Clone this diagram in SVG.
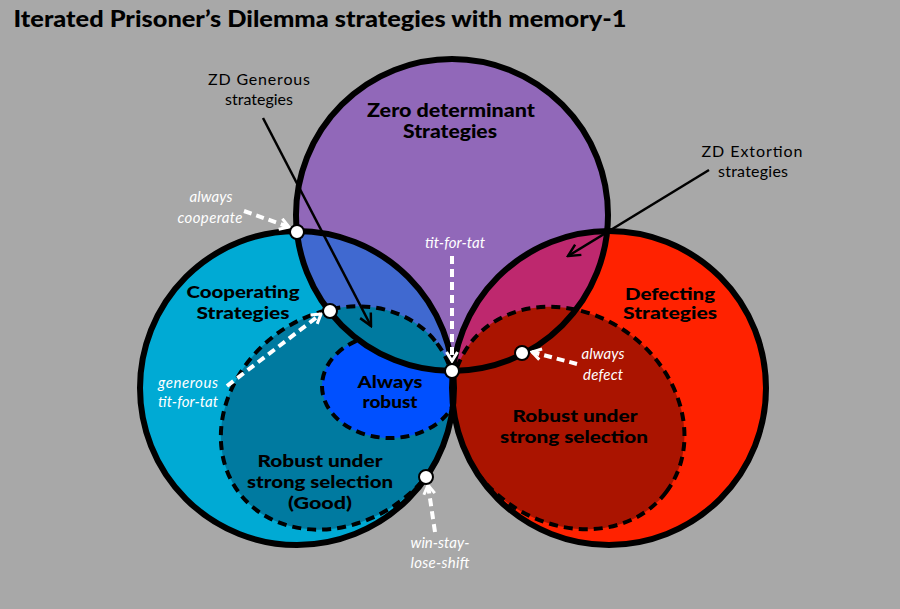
<svg xmlns="http://www.w3.org/2000/svg" width="900" height="609" viewBox="0 0 900 609">
<style>
.outline{fill:none;stroke:#000;stroke-width:6}
.dash{fill:none;stroke:#000;stroke-width:4;stroke-dasharray:9 6}
.bold{font-family:Lato,"Liberation Sans",sans-serif;font-weight:900;font-size:17px;fill:#000;text-anchor:middle}
.note{font-family:Lato,"Liberation Sans",sans-serif;font-size:16px;fill:#000;text-anchor:middle}
.ital{font-family:Lato,"Liberation Sans",sans-serif;font-style:italic;font-size:15px;fill:#fff;text-anchor:middle}
.warrow{fill:none;stroke:#fff;stroke-width:4;stroke-dasharray:8 5}
.barrow{fill:none;stroke:#000;stroke-width:2.5}
</style>
<defs>
<clipPath id="cCyan"><circle cx="297" cy="388" r="157"/></clipPath>
<clipPath id="cRed"><circle cx="609" cy="388" r="157"/></clipPath>
<mask id="mRobust" maskUnits="userSpaceOnUse" x="0" y="0" width="900" height="609">
<circle cx="297" cy="388" r="157" fill="#fff"/>
<circle cx="452" cy="215" r="156" fill="#000"/>
</mask>
<marker id="wHead" markerUnits="userSpaceOnUse" viewBox="0 0 14 14" markerWidth="14" markerHeight="14" refX="12" refY="7" orient="auto">
<path d="M3,1.5 L12,7 L3,12.5" fill="none" stroke="#fff" stroke-width="3"/>
</marker>
<marker id="bHead" markerUnits="userSpaceOnUse" viewBox="0 0 16 16" markerWidth="16" markerHeight="16" refX="14" refY="8" orient="auto">
<path d="M2,2 L14,8 L2,14" fill="none" stroke="#000" stroke-width="2.5"/>
</marker>
</defs>
<rect x="0" y="0" width="900" height="609" fill="#a8a8a8"/>
<text x="320" y="27" style="font-family:Lato,'Liberation Sans',sans-serif;font-weight:900;font-size:23px;text-anchor:middle" textLength="613" lengthAdjust="spacingAndGlyphs">Iterated Prisoner’s Dilemma strategies with memory-1</text>

<g id="cooperating">
<circle cx="297" cy="388" r="157" fill="#00aad4"/>
</g>
<g id="defecting">
<circle cx="609" cy="388" r="157" fill="#ff2200"/>
</g>
<g id="zero-determinant">
<circle cx="452" cy="215" r="156" fill="#9168b9"/>
</g>
<g id="zd-generous-region">
<circle cx="452" cy="215" r="156" fill="#4069d0" clip-path="url(#cCyan)"/>
</g>
<g id="zd-extortion-region">
<circle cx="452" cy="215" r="156" fill="#be286e" clip-path="url(#cRed)"/>
</g>
<g id="robust-good">
<g clip-path="url(#cCyan)">
<ellipse cx="338" cy="418" rx="124" ry="104" transform="rotate(-37 338 418)" fill="#007aa0"/>
<ellipse cx="338" cy="418" rx="124" ry="104" transform="rotate(-37 338 418)" class="dash"/>
</g>
</g>
<g id="robust-defect">
<g clip-path="url(#cRed)">
<ellipse cx="568" cy="418" rx="123" ry="104" transform="rotate(37 568 418)" fill="#aa1400"/>
<ellipse cx="568" cy="418" rx="123" ry="104" transform="rotate(37 568 418)" class="dash"/>
</g>
</g>
<g id="always-robust">
<g mask="url(#mRobust)">
<ellipse cx="390" cy="386" rx="68" ry="52" fill="#0050ff"/>
<ellipse cx="390" cy="386" rx="68" ry="52" class="dash"/>
</g>
</g>
<g id="outlines">
<circle cx="297" cy="388" r="157" class="outline"/>
<circle cx="609" cy="388" r="157" class="outline"/>
<circle cx="452" cy="215" r="156" class="outline"/>
</g>

<g id="connectors">
<line x1="263" y1="118" x2="371" y2="326" class="barrow" marker-end="url(#bHead)"/>
<line x1="709" y1="170" x2="568" y2="256" class="barrow" marker-end="url(#bHead)"/>
<line x1="244" y1="211" x2="289" y2="227" class="warrow" marker-end="url(#wHead)"/>
<line x1="227" y1="386" x2="321" y2="314" class="warrow" marker-end="url(#wHead)"/>
<line x1="452" y1="256" x2="452" y2="361" class="warrow" marker-end="url(#wHead)"/>
<line x1="577" y1="364" x2="532" y2="352" class="warrow" marker-end="url(#wHead)"/>
<line x1="435" y1="532" x2="428" y2="485" class="warrow" marker-end="url(#wHead)"/>
</g>

<g id="points" fill="#fff" stroke="#000" stroke-width="2">
<circle cx="297" cy="232" r="7"/>
<circle cx="330" cy="311" r="7"/>
<circle cx="452" cy="371" r="7"/>
<circle cx="522" cy="353" r="7"/>
<circle cx="426" cy="477" r="7"/>
</g>

<g id="labels">
<text class="note" x="259" y="85" textLength="102">ZD Generous</text>
<text class="note" x="259" y="105" textLength="68">strategies</text>
<text class="bold" x="451" y="117" textLength="168" lengthAdjust="spacingAndGlyphs" style="font-size:18px">Zero determinant</text>
<text class="bold" x="450" y="138" textLength="94" lengthAdjust="spacingAndGlyphs" style="font-size:18px">Strategies</text>
<text class="note" x="752" y="157" textLength="101">ZD Extortion</text>
<text class="note" x="753" y="177" textLength="70">strategies</text>
<text class="ital" x="211" y="202" textLength="43">always</text>
<text class="ital" x="210" y="223" textLength="65">cooperate</text>
<text class="ital" x="455" y="248" textLength="60">tit-for-tat</text>
<text class="bold" x="243" y="298" textLength="113" lengthAdjust="spacingAndGlyphs">Cooperating</text>
<text class="bold" x="243" y="319" textLength="93" lengthAdjust="spacingAndGlyphs">Strategies</text>
<text class="bold" x="670" y="300" textLength="90" lengthAdjust="spacingAndGlyphs">Defecting</text>
<text class="bold" x="670" y="319" textLength="94" lengthAdjust="spacingAndGlyphs">Strategies</text>
<text class="ital" x="188" y="388" textLength="60">generous</text>
<text class="ital" x="188" y="407" textLength="60">tit-for-tat</text>
<text class="ital" x="603" y="359" textLength="43">always</text>
<text class="ital" x="603" y="380" textLength="40">defect</text>
<text class="bold" x="390" y="388" textLength="65" lengthAdjust="spacingAndGlyphs">Always</text>
<text class="bold" x="390" y="408" textLength="55" lengthAdjust="spacingAndGlyphs">robust</text>
<text class="bold" x="575" y="422" textLength="125" lengthAdjust="spacingAndGlyphs">Robust under</text>
<text class="bold" x="574" y="443" textLength="148" lengthAdjust="spacingAndGlyphs">strong selection</text>
<text class="bold" x="320" y="467" textLength="125" lengthAdjust="spacingAndGlyphs">Robust under</text>
<text class="bold" x="320" y="488" textLength="146" lengthAdjust="spacingAndGlyphs">strong selection</text>
<text class="bold" x="320" y="509" textLength="64" lengthAdjust="spacingAndGlyphs">(Good)</text>
<text class="ital" x="440" y="548" textLength="59">win-stay-</text>
<text class="ital" x="440" y="568" textLength="59">lose-shift</text>
</g>
</svg>
